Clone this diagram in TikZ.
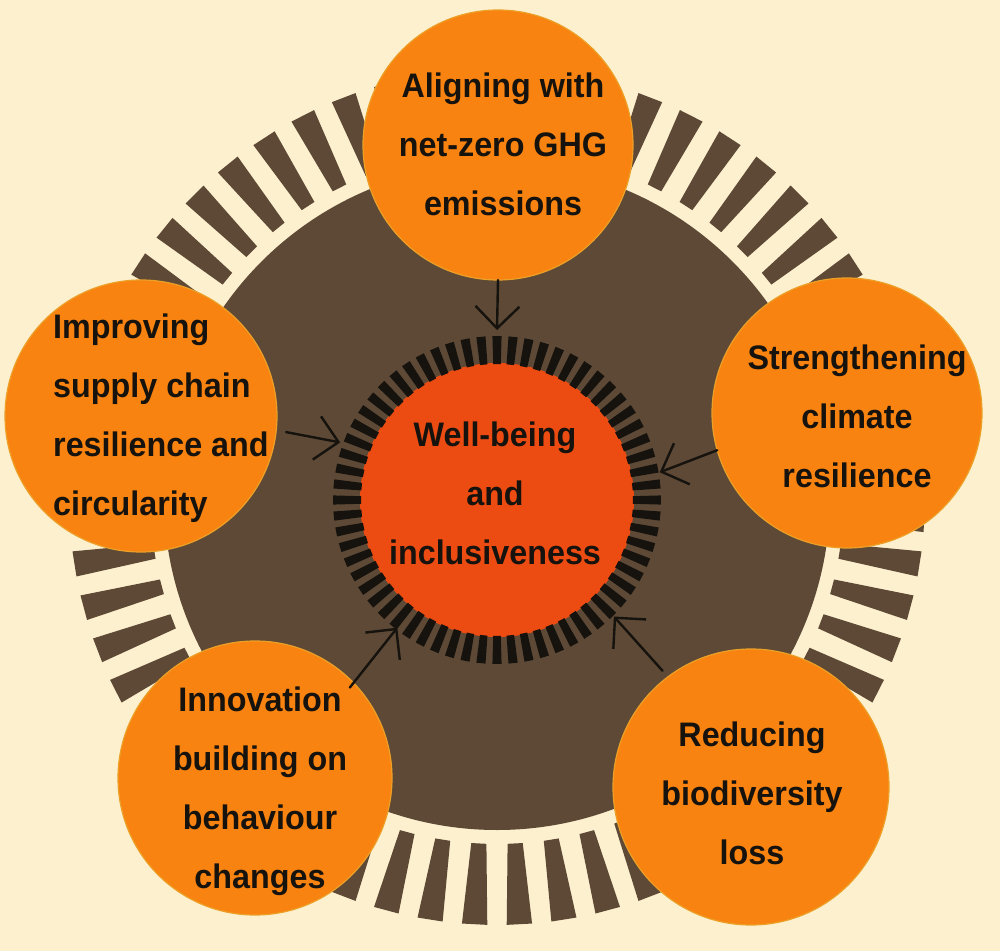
\documentclass[tikz,border=0pt]{standalone}
\usepackage{fontspec}
\setmainfont{Liberation Sans}[FakeStretch=0.95]
\usetikzlibrary{arrows.meta}
\definecolor{cream}{RGB}{253,240,207}
\definecolor{brownc}{RGB}{93,73,53}
\definecolor{orng}{RGB}{248,131,16}
\definecolor{orngline}{RGB}{236,160,40}
\definecolor{hubred}{RGB}{236,76,18}
\definecolor{ink}{RGB}{22,18,14}
\begin{document}
\begin{tikzpicture}[x=1pt,y=1pt,
  bub/.style={circle, fill=orng, draw=orngline, line width=1.2pt, inner sep=0pt, outer sep=0pt},
  lab/.style={font=\fontsize{34}{59}\selectfont\bfseries, align=center, text=ink, inner sep=0pt},
  arr/.style={draw=ink, line width=2.4pt, line cap=round, line join=round, -{Straight Barb[length=22pt,width=44pt,line width=2.4pt]}}]
\fill[cream] (0,0) rectangle (1000,951);
\useasboundingbox (0,0) rectangle (1000,951);
% outer ring of wedges
\begin{scope}[shift={(497,454)}]
\foreach \k in {0,...,59}{
  \fill[brownc] ({6*\k+3-1.25}:347) -- ({6*\k+3-1.7}:428) -- ({6*\k+3+1.7}:428) -- ({6*\k+3+1.25}:347) -- cycle;
}
\end{scope}
% brown disk
\node[circle, fill=brownc, minimum size=666pt, inner sep=0pt] (disk) at (497,454) {};
% hub
\node[circle, fill=hubred, minimum size=274pt, inner sep=0pt] (hubfill) at (497,451) {};
\begin{scope}[shift={(497,451)}]
\foreach \k in {0,...,63}{
  \fill[ink] ({5.625*\k+90-1.6}:136) -- ({5.625*\k+90-1.6}:164) -- ({5.625*\k+90+1.6}:164) -- ({5.625*\k+90+1.6}:136) -- cycle;
}
\end{scope}
\node[circle, minimum size=340pt, inner sep=0pt, outer sep=0pt] (hub) at (497,451) {};
% outer circles
\node[bub, minimum size=270pt] (T) at (498,806) {};
\node[bub, minimum size=270pt] (R) at (847,538) {};
\node[bub, minimum size=276pt] (BR) at (751,164) {};
\node[bub, minimum size=274pt] (BL) at (255,173) {};
\node[bub, minimum size=272pt] (L) at (141,535) {};
% arrows
\draw[arr] (T.-90.2) -- (hub.90);
\draw[arr, shorten <=10pt, shorten >=-3pt] (L.-6) -- (hub.160.5);
\draw[arr, shorten >=-5pt] (R.196) -- (hub.10);
\draw[arr, shorten <=8pt, shorten >=-5pt] (BR.127) -- (hub.-45);
\draw[arr, shorten <=-6pt, shorten >=-8pt] (BL.44) -- (hub.-128.4);
% labels
\node[lab] (hubtxt) at (495,458) {Well-being\\and\\inclusiveness};
\node[lab] (Tt) at (503,807) {Aligning with\\net-zero GHG\\emissions};
\node[lab] (Rt) at (857,535) {Strengthening\\climate\\resilience};
\node[lab] (BRt) at (752,158) {Reducing\\biodiversity\\loss};
\node[lab] (BLt) at (260,160) {Innovation\\building on\\behaviour\\changes};
\node[lab, align=left, anchor=west] (Lt) at (53,533) {Improving\\supply chain\\resilience and\\circularity};
\end{tikzpicture}
\end{document}
